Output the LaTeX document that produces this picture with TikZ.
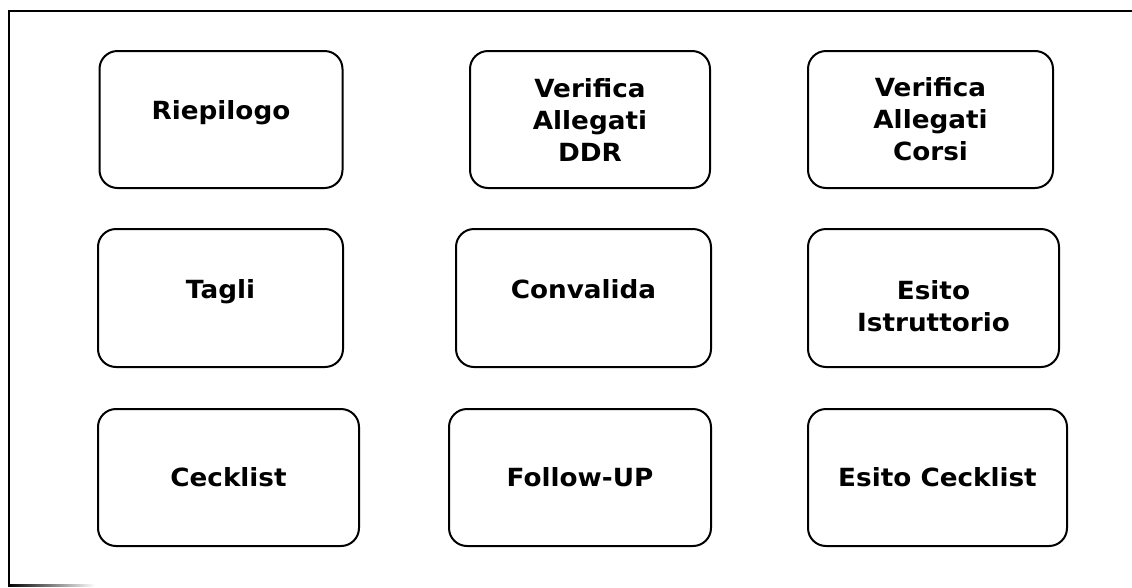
\documentclass[tikz,border=0pt]{standalone}
\usepackage{fontspec}
\setmainfont{DejaVu Sans}[FakeStretch=1.05]
\usepackage{tikz}
\usetikzlibrary{positioning}

\begin{document}
\begin{tikzpicture}[
	x=1pt, y=-1pt,
	box/.style={
		rectangle,
		rounded corners=18pt,
		draw=black,
		line width=2pt,
		align=center,
		inner sep=0pt,
		minimum height=137pt
		},
	lifted/.style={
		text height=18pt,
		text depth=18pt
	},
	frame/.style={
		line width=2pt,
		draw=black
	},
	every node/.style={font=\fontsize{25}{32}\selectfont\bfseries}
]
\useasboundingbox (0,0) rectangle (1132,587);

% Frame
\draw [frame] (1132,11) -- (9,11) -- (9,585);
\shade [left color=black, right color=white] (8,584) rectangle (95,586);

% Row 1
\node [box, lifted, minimum width=243pt] (Riepilogo) at (221,119.5) {Riepilogo};
\node [box, minimum width=240pt] (AllegatiDDR) at (590,119.5) {Verifica\\Allegati\\DDR};
\node [box, minimum width=245pt] (AllegatiCorsi) at (930.5,119.5) {Verifica\\Allegati\\Corsi};
% Row 2
\node [box, lifted, minimum width=245pt, minimum height=138pt] (Tagli) at (220.5,298) {Tagli};
\node [box, lifted, minimum width=255pt, minimum height=138pt] (Convalida) at (583.5,298) {Convalida};
\node [box, minimum width=251pt, minimum height=138pt, text height=67pt, text depth=0pt] (Istruttorio) at (933.5,298) {Esito\\Istruttorio};
% Row 3
\node [box, minimum width=261pt] (Cecklist) at (228.5,477.5) {Cecklist};
\node [box, minimum width=262pt] (FollowUP) at (580,477.5) {Follow-UP};
\node [box, minimum width=259pt] (EsitoCecklist) at (937.5,477.5) {Esito Cecklist};
\end{tikzpicture}
\end{document}
